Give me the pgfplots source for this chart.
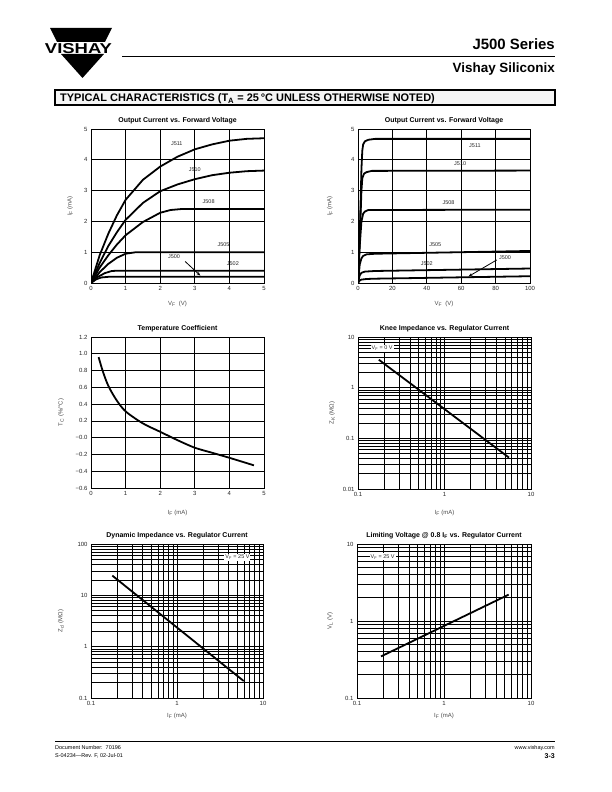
\documentclass[border=0pt]{standalone}
\usepackage{fontspec}
\setmainfont{Liberation Sans}
\usepackage{graphicx}
\usepackage{pgfplots}
\pgfplotsset{compat=1.18}
\usetikzlibrary{arrows.meta}

% common look of the six datasheet panels
\pgfplotsset{
  sheet/.style={
    scale only axis,
    anchor=south west,
    axis line style={black, line width=0.8pt},
    grid=major,
    major grid style={black, line width=0.65pt},
    tick style={draw=none},
    tick label style={font=\fontsize{6}{7}\selectfont, text=black!85},
    label style={font=\fontsize{6}{7}\selectfont, text=black!70},
    title style={font=\fontsize{7}{8}\selectfont\bfseries, at={(axis description cs:0.5,1)}, anchor=south, yshift=-4.5bp},
    /pgf/number format/assume math mode=true,
    ylabel style={anchor=center},
    xlabel style={anchor=center},
  },
  logsheet/.style={sheet, grid=both,
    minor grid style={black, line width=0.65pt}},
  curve/.style={black, line width=1.8pt, no markers, line join=round},
}
\tikzset{tag/.style={font=\fontsize{5.5}{6}\selectfont, text=black!85, inner sep=1pt}}

\begin{document}
\begin{tikzpicture}
\useasboundingbox (0,0) rectangle (612bp,792bp);
\fill[white] (0,0) rectangle (612bp,792bp);

% header and footer, in page pixels with y downwards
\begin{scope}[x=1bp,y=-1bp,shift={(0,792bp)}]
  \fill (50,28) -- (112,28) -- (105,42) -- (57,42) -- cycle;
  \fill (61,54) -- (104,54) -- (82.5,78) -- cycle;
  \node[inner sep=0pt] at (78.5,48.3) {\resizebox{67bp}{10bp}{\bfseries VISHAY}};
  \draw[line width=0.8pt] (122,56) -- (555,56);
  \node[anchor=base east, inner sep=0pt, font=\fontsize{15}{15}\selectfont\bfseries] at (555,50) {J500 Series};
  \node[anchor=base east, inner sep=0pt, font=\fontsize{13.5}{14}\selectfont\bfseries] at (555,73) {Vishay Siliconix};
  \draw[line width=1.2pt, fill=gray!8] (55,90) rectangle (555,105);
  \node[anchor=base west, inner sep=0pt, font=\fontsize{11}{12}\selectfont\bfseries] at (60,101.5)
    {TYPICAL CHARACTERISTICS (T\textsubscript{A} = 25\,°C UNLESS OTHERWISE NOTED)};
  \draw[line width=0.8pt] (55,741) -- (555,741);
  \node[anchor=base west, inner sep=0pt, font=\fontsize{5.5}{6}\selectfont] at (55,750) {Document Number:~~70196};
  \node[anchor=base west, inner sep=0pt, font=\fontsize{5.5}{6}\selectfont] at (55,758) {S-04234—Rev. F, 02-Jul-01};
  \node[anchor=base east, inner sep=0pt, font=\fontsize{5.5}{6}\selectfont] at (555,750) {www.vishay.com};
  \node[anchor=base east, inner sep=0pt, font=\fontsize{7}{8}\selectfont\bfseries] at (555,759) {3-3};
\end{scope}

% 1: output current, 0-5 V
\begin{axis}[sheet, at={(91bp,509bp)}, width=173bp, height=154bp,
  xmin=0, xmax=5, ymin=0, ymax=5, xtick={0,1,2,3,4,5}, ytick={0,1,2,3,4,5},
  title={Output Current vs. Forward Voltage},
  xlabel={V\textsubscript{F}\ \ (V)}, ylabel={I\textsubscript{F} (mA)},
  xlabel style={at={(axis description cs:0.5,-0.136)}},
  ylabel style={at={(axis description cs:-0.121,0.5)}}]
\addplot[curve] coordinates {(0,0)(0.25,0.9)(0.5,1.6)(0.75,2.2)(1,2.7)(1.5,3.35)(2,3.78)(2.5,4.1)(3,4.34)(3.5,4.5)(4,4.62)(4.5,4.68)(5,4.7)};
\addplot[curve] coordinates {(0,0)(0.25,0.65)(0.5,1.2)(0.75,1.65)(1,2.05)(1.5,2.6)(2,2.98)(2.5,3.2)(3,3.37)(3.5,3.5)(4,3.58)(4.5,3.63)(5,3.65)};
\addplot[curve] coordinates {(0,0)(0.25,0.5)(0.5,0.9)(0.75,1.25)(1,1.55)(1.5,1.98)(2,2.28)(2.3,2.37)(2.6,2.4)(5,2.4)};
\addplot[curve] coordinates {(0,0)(0.25,0.35)(0.5,0.62)(0.75,0.82)(1,0.95)(1.3,1.0)(5,1.0)};
\addplot[curve] coordinates {(0,0)(0.2,0.2)(0.4,0.32)(0.6,0.39)(0.8,0.4)(5,0.4)};
\addplot[curve] coordinates {(0,0)(0.15,0.12)(0.3,0.18)(0.5,0.2)(5,0.2)};
\node[tag] at (axis cs:2.48,4.53) {J511};
\node[tag] at (axis cs:3.0,3.67) {J510};
\node[tag] at (axis cs:3.4,2.63) {J508};
\node[tag] at (axis cs:3.83,1.23) {J505};
\node[tag] at (axis cs:4.1,0.62) {J502};
\node[tag] at (axis cs:2.4,0.85) {J500};
\draw[-{Stealth[length=4pt,width=3pt]}, line width=0.8pt] (axis cs:2.72,0.7) -- (axis cs:3.16,0.24);
\end{axis}

% 2: output current, 0-100 V
\begin{axis}[sheet, at={(358bp,509bp)}, width=172bp, height=154bp,
  xmin=0, xmax=100, ymin=0, ymax=5, xtick={0,20,40,60,80,100}, ytick={0,1,2,3,4,5},
  title={Output Current vs. Forward Voltage},
  xlabel={V\textsubscript{F}\ \ (V)}, ylabel={I\textsubscript{F} (mA)},
  xlabel style={at={(axis description cs:0.5,-0.136)}},
  ylabel style={at={(axis description cs:-0.163,0.5)}}]
\addplot[curve] coordinates {(0,0)(1,1.5)(2,3.7)(2.5,4.3)(3,4.5)(4,4.6)(6,4.65)(10,4.68)(100,4.68)};
\addplot[curve] coordinates {(0,0)(1,1.4)(2,3.0)(2.5,3.4)(3.5,3.55)(5,3.6)(8,3.64)(100,3.65)};
\addplot[curve] coordinates {(0,0)(1,1.2)(2,2.0)(3,2.25)(4,2.32)(6,2.37)(100,2.38)};
\addplot[curve] coordinates {(0,0)(1,0.6)(2,0.8)(3,0.88)(5,0.93)(10,0.95)(100,1.04)};
\addplot[curve] coordinates {(0,0)(1,0.25)(2,0.33)(4,0.37)(10,0.39)(100,0.47)};
\addplot[curve] coordinates {(0,0)(1,0.08)(2,0.11)(5,0.13)(10,0.14)(100,0.22)};
\node[tag] at (axis cs:68,4.46) {J511};
\node[tag] at (axis cs:59.4,3.89) {J510};
\node[tag] at (axis cs:52.6,2.61) {J508};
\node[tag] at (axis cs:44.9,1.23) {J505};
\node[tag] at (axis cs:40,0.64) {J502};
\node[tag] at (axis cs:85.5,0.83) {J500};
\draw[-{Stealth[length=4pt,width=3pt]}, line width=0.8pt] (axis cs:80.7,0.75) -- (axis cs:64.2,0.21);
\end{axis}

% 3: temperature coefficient
\begin{axis}[sheet, at={(91bp,304bp)}, width=173bp, height=151bp,
  xmin=0, xmax=5, ymin=-0.6, ymax=1.2, xtick={0,1,2,3,4,5},
  ytick={-0.6,-0.4,-0.2,0,0.2,0.4,0.6,0.8,1.0,1.2},
  yticklabels={−0.6,−0.4,−0.2,−0.0,0.2,0.4,0.6,0.8,1.0,1.2},
  title={Temperature Coefficient},
  xlabel={I\textsubscript{F} (mA)}, ylabel={T\textsubscript{C} (\%/°C)},
  xlabel style={at={(axis description cs:0.5,-0.166)}},
  ylabel style={at={(axis description cs:-0.173,0.5)}}]
\addplot[curve, smooth] coordinates {(0.22,0.96)(0.35,0.78)(0.51,0.61)(0.75,0.44)(1.01,0.31)(1.5,0.17)(2.0,0.07)(2.5,-0.03)(3.0,-0.12)(3.5,-0.18)(4.0,-0.24)(4.71,-0.33)};
\end{axis}

% 4: knee impedance
\begin{loglogaxis}[logsheet, at={(358bp,303bp)}, width=173bp, height=152bp,
  xmin=0.1, xmax=10, ymin=0.01, ymax=10,
  xtick={0.1,1,10}, xticklabels={0.1,1,10},
  ytick={0.01,0.1,1,10}, yticklabels={0.01,0.1,1,10},
  title={Knee Impedance vs. Regulator Current},
  xlabel={I\textsubscript{F} (mA)}, ylabel={Z\textsubscript{K} (MΩ)},
  xlabel style={at={(axis description cs:0.5,-0.158)}},
  ylabel style={at={(axis description cs:-0.15,0.5)}}]
\addplot[curve] coordinates {(0.174,3.56)(5.56,0.0417)};
\node[tag, fill=white] at (axis cs:0.19,6.0) {V\textsubscript{F} = 0 V};
\end{loglogaxis}

% 5: dynamic impedance
\begin{loglogaxis}[logsheet, at={(91bp,94bp)}, width=172bp, height=154bp,
  xmin=0.1, xmax=10, ymin=0.1, ymax=100,
  xtick={0.1,1,10}, xticklabels={0.1,1,10},
  ytick={0.1,1,10,100}, yticklabels={0.1,1,10,100},
  title={Dynamic Impedance vs. Regulator Current},
  xlabel={I\textsubscript{F} (mA)}, ylabel={Z\textsubscript{d} (MΩ)},
  xlabel style={at={(axis description cs:0.5,-0.117)}},
  ylabel style={at={(axis description cs:-0.174,0.5)}}]
\addplot[curve] coordinates {(0.177,24.2)(5.97,0.214)};
\node[tag, fill=white] at (axis cs:5.05,55) {V\textsubscript{F} = 25 V};
\end{loglogaxis}

% 6: limiting voltage
\begin{loglogaxis}[logsheet, at={(357bp,94bp)}, width=174bp, height=154bp,
  xmin=0.1, xmax=10, ymin=0.1, ymax=10,
  xtick={0.1,1,10}, xticklabels={0.1,1,10},
  ytick={0.1,1,10}, yticklabels={0.1,1,10},
  title={Limiting Voltage @ 0.8 I\textsubscript{F} vs. Regulator Current},
  xlabel={I\textsubscript{F} (mA)}, ylabel={V\textsubscript{L} (V)},
  xlabel style={at={(axis description cs:0.5,-0.117)}},
  ylabel style={at={(axis description cs:-0.155,0.5)}}]
\addplot[curve] coordinates {(0.189,0.347)(5.54,2.2)};
\node[tag, fill=white] at (axis cs:0.197,6.84) {V\textsubscript{F} = 25 V};
\end{loglogaxis}
\end{tikzpicture}
\end{document}
